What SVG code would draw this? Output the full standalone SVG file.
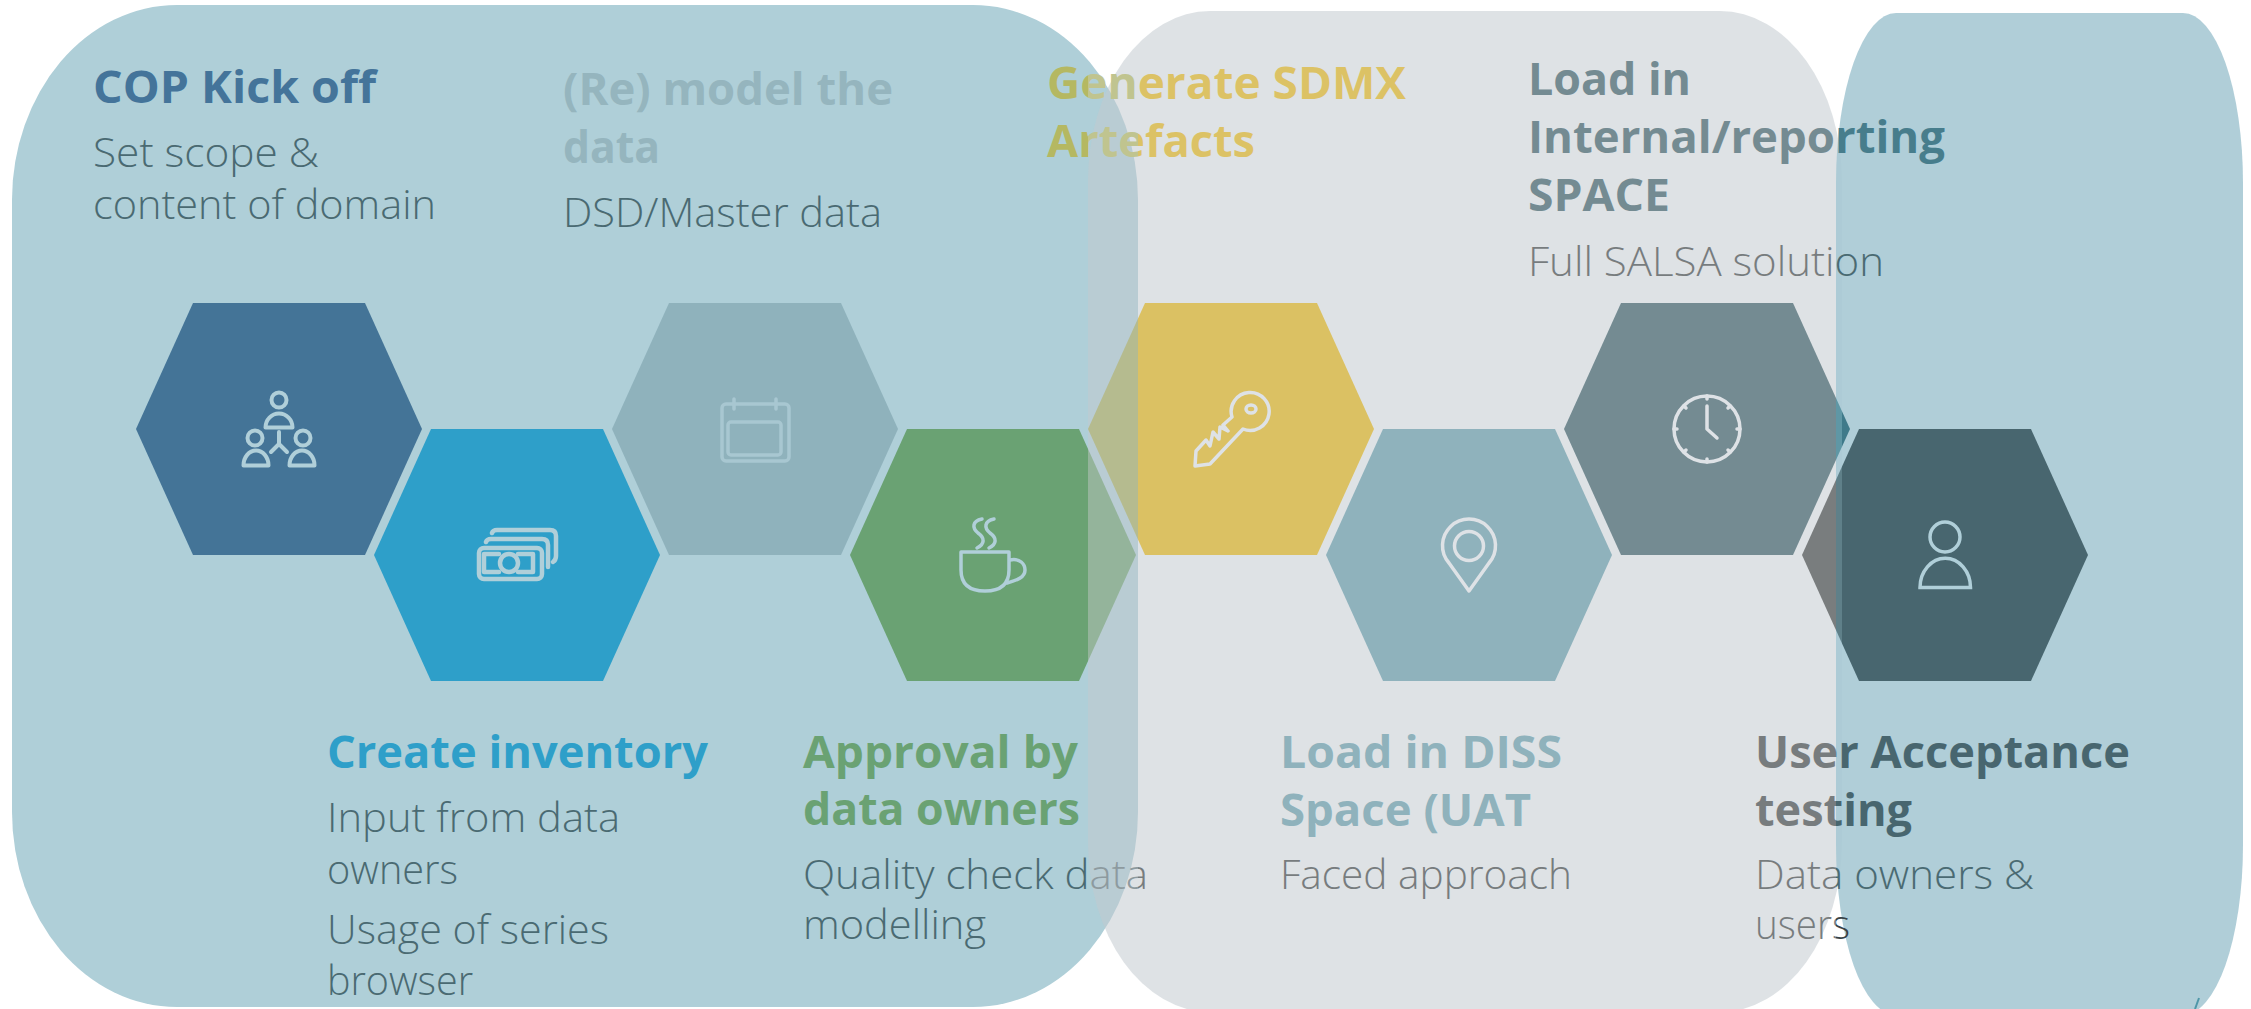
<svg xmlns="http://www.w3.org/2000/svg" width="2251" height="1009" viewBox="0 0 2251 1009">
<style>
text{font-family:"Open Sans","Noto Sans","Liberation Sans",sans-serif}
.t{font-size:45.500px;font-weight:700}
.s{font-size:39.500px;font-weight:300}
.d1{fill:#4a6a72}.d2{fill:#777c7e}
.i{fill:none;stroke-width:3.500;stroke-linecap:round;stroke-linejoin:round}
.ib{stroke:#b0cfd9}.ig{stroke:#dee2e6}
</style>
<defs>
<linearGradient id="gGreen" gradientUnits="userSpaceOnUse" x1="1088" x2="1089" y1="0" y2="0"><stop offset="0" stop-color="#6aa273"/><stop offset="0" stop-color="#94b49b"/></linearGradient>
<linearGradient id="gYellow" gradientUnits="userSpaceOnUse" x1="1138" x2="1139" y1="0" y2="0"><stop offset="0" stop-color="#b5bb8f"/><stop offset="0" stop-color="#dbc163"/></linearGradient>
<linearGradient id="gH7" gradientUnits="userSpaceOnUse" x1="1836" x2="1842" y1="0" y2="0"><stop offset="0" stop-color="#748b92"/><stop offset="0" stop-color="#5f97a5"/><stop offset="1" stop-color="#5f97a5"/><stop offset="1" stop-color="#3f7a8a"/></linearGradient>
<linearGradient id="gH8" gradientUnits="userSpaceOnUse" x1="1836" x2="1842" y1="0" y2="0"><stop offset="0" stop-color="#797d7e"/><stop offset="0" stop-color="#5f8089"/><stop offset="1" stop-color="#5f8089"/><stop offset="1" stop-color="#48666f"/></linearGradient>
<linearGradient id="gTitleY" gradientUnits="userSpaceOnUse" x1="1088" x2="1138" y1="0" y2="0"><stop offset="0" stop-color="#b5b862"/><stop offset="0" stop-color="#c0c48f"/><stop offset="1" stop-color="#c0c48f"/><stop offset="1" stop-color="#dcc265"/></linearGradient>
<linearGradient id="gQual" gradientUnits="userSpaceOnUse" x1="1088" x2="1138" y1="0" y2="0"><stop offset="0" stop-color="#4a6a72"/><stop offset="0" stop-color="#8d9a9f"/><stop offset="1" stop-color="#8d9a9f"/><stop offset="1" stop-color="#777c7e"/></linearGradient>
<linearGradient id="gLoad" gradientUnits="userSpaceOnUse" x1="1836" x2="1837" y1="0" y2="0"><stop offset="0" stop-color="#748b92"/><stop offset="0" stop-color="#477d8c"/></linearGradient>
<linearGradient id="gSub" gradientUnits="userSpaceOnUse" x1="1836" x2="1837" y1="0" y2="0"><stop offset="0" stop-color="#777c7e"/><stop offset="0" stop-color="#4a6a72"/></linearGradient>
<linearGradient id="gUser" gradientUnits="userSpaceOnUse" x1="1836" x2="1837" y1="0" y2="0"><stop offset="0" stop-color="#777c7e"/><stop offset="0" stop-color="#48666f"/></linearGradient>
<linearGradient id="gUsers" gradientUnits="userSpaceOnUse" x1="1836" x2="1837" y1="0" y2="0"><stop offset="0" stop-color="#777c7e"/><stop offset="0" stop-color="#3a4246"/></linearGradient>
</defs>

<g id="panels">
<rect id="panel-blue" x="12" y="5" width="1126" height="1002" rx="165" ry="195" fill="#afcfd8"/>
<rect id="panel-grey" x="1088" y="11" width="754" height="1001" rx="122" ry="170" fill="#c2cacf" fill-opacity="0.54"/>
<rect id="panel-right" x="1836" y="13" width="407" height="1002" rx="60" ry="170" fill="#a7c9d4" fill-opacity="0.9"/>
<path d="M2199 998L2195 1009" stroke="#4f97a8" stroke-width="2" fill="none"/>
</g>

<g id="connectors"></g>

<g id="node-cop">
<polygon points="136,429 193,303 365,303 422,429 365,555 193,555" fill="#447497"/>
<g class="i ib" style="stroke-width:4"><circle cx="279" cy="400" r="7.500"/><path d="M265.500 427.500a13.500 14 0 0 1 27 0z"/><circle cx="255" cy="438" r="7.500"/><path d="M243.500 465.500a12.500 15 0 0 1 25 0z"/><circle cx="303" cy="438" r="7.500"/><path d="M289.500 465.500a12.500 15 0 0 1 25 0z"/><path d="M279 432V444L271 452M279 444L287 452"/></g>
<text class="t" x="93" y="103" textLength="283" lengthAdjust="spacingAndGlyphs" fill="#44749a">COP Kick off</text>
<text class="s d1" x="93" y="167" textLength="226" lengthAdjust="spacingAndGlyphs">Set scope &amp;</text>
<text class="s d1" x="93" y="219" textLength="343" lengthAdjust="spacingAndGlyphs">content of domain</text>
</g>

<g id="node-inventory">
<polygon points="374,555 431,429 603,429 660,555 603,681 431,681" fill="#2e9fc9"/>
<g class="i ib" style="stroke-width:4.500"><rect x="479" y="548" width="63" height="31" rx="5"/><path d="M486 542Q487 539 491 539H542Q548 539 548 545V567"/><path d="M492 533Q493 530 497 530H550Q556 530 556 536V556Q556 560 553 562"/><circle cx="509" cy="563" r="9"/><path d="M499 554H484V572H499M518 554H533V572H518"/></g>
<text class="t" x="327" y="768" textLength="381" lengthAdjust="spacingAndGlyphs" fill="#2e9fc9">Create inventory</text>
<text class="s d1" x="327" y="832" textLength="293" lengthAdjust="spacingAndGlyphs">Input from data</text>
<text class="s d1" x="327" y="884" textLength="131" lengthAdjust="spacingAndGlyphs">owners</text>
<text class="s d1" x="327" y="944" textLength="282" lengthAdjust="spacingAndGlyphs">Usage of series</text>
<text class="s d1" x="327" y="995" textLength="146" lengthAdjust="spacingAndGlyphs">browser</text>
</g>

<g id="node-model">
<polygon points="612,429 669,303 841,303 898,429 841,555 669,555" fill="#8fb2bc"/>
<g class="i" stroke="#a8c7d1"><rect x="722" y="404" width="67" height="57" rx="4"/><rect x="728" y="422" width="53" height="33" rx="3"/><path d="M734 399V409M776 399V409"/></g>
<text class="t" x="563" y="105" textLength="330" lengthAdjust="spacingAndGlyphs" fill="#95b5be">(Re) model the</text>
<text class="t" x="563" y="163" textLength="97" lengthAdjust="spacingAndGlyphs" fill="#95b5be">data</text>
<text class="s d1" x="563" y="227" textLength="319" lengthAdjust="spacingAndGlyphs">DSD/Master data</text>
</g>

<g id="node-approval">
<polygon points="850,555 907,429 1079,429 1136,555 1079,681 907,681" fill="url(#gGreen)"/>
<g class="i ib"><path d="M961 552H1009V570Q1009 591 985 591Q961 591 961 570Z"/><path d="M1010 560C1020 558 1025 564 1025 570C1025 577 1018 580 1007 583"/><path d="M982 519C972 521 972 528 978 533C985 538 985 544 977 548"/><path d="M994 519C984 521 984 528 990 533C997 538 997 544 989 548"/></g>
<text class="t" x="803" y="768" textLength="275" lengthAdjust="spacingAndGlyphs" fill="#6aa273">Approval by</text>
<text class="t" x="803" y="825" textLength="277" lengthAdjust="spacingAndGlyphs" fill="#6aa273">data owners</text>
<text class="s" x="803" y="889" textLength="345" lengthAdjust="spacingAndGlyphs" fill="url(#gQual)">Quality check data</text>
<text class="s d1" x="803" y="939" textLength="183" lengthAdjust="spacingAndGlyphs">modelling</text>
</g>

<g id="node-sdmx">
<polygon points="1088,429 1145,303 1317,303 1374,429 1317,555 1145,555" fill="url(#gYellow)"/>
<g class="i ig"><path d="M1243 429A19 19 0 1 0 1232 417L1223 425L1228 431L1220 427L1219 439L1213 432L1210 446L1206 440L1196 451L1195 466L1210 464Z"/><ellipse cx="1251" cy="409" rx="5" ry="4"/></g>
<text class="t" x="1047" y="99" textLength="359" lengthAdjust="spacingAndGlyphs" fill="url(#gTitleY)">Generate SDMX</text>
<text class="t" x="1047" y="157" textLength="208" lengthAdjust="spacingAndGlyphs" fill="url(#gTitleY)">Artefacts</text>
</g>

<g id="node-diss">
<polygon points="1326,555 1383,429 1555,429 1612,555 1555,681 1383,681" fill="#8fb2bc"/>
<g class="i ig"><path d="M1469 591L1449 563A26.500 26.500 0 1 1 1489 563Z"/><circle cx="1469" cy="546" r="14.500"/></g>
<text class="t" x="1280" y="768" textLength="282" lengthAdjust="spacingAndGlyphs" fill="#8fb2bc">Load in DISS</text>
<text class="t" x="1280" y="826" textLength="251" lengthAdjust="spacingAndGlyphs" fill="#8fb2bc">Space (UAT</text>
<text class="s d2" x="1280" y="889" textLength="292" lengthAdjust="spacingAndGlyphs">Faced approach</text>
</g>

<g id="node-internal">
<polygon points="1564,429 1621,303 1793,303 1850,429 1793,555 1621,555" fill="url(#gH7)"/>
<g class="i ig"><circle cx="1707" cy="429" r="33"/><path d="M1707 406V429L1717 438M1707 396V399M1707 459V462M1674 429H1677M1737 429H1740M1684 406L1686 408M1730 406L1728 408M1684 452L1686 450M1730 452L1728 450"/></g>
<text class="t" x="1528" y="95" textLength="163" lengthAdjust="spacingAndGlyphs" fill="#748b92">Load in</text>
<text class="t" x="1528" y="153" textLength="417" lengthAdjust="spacingAndGlyphs" fill="url(#gLoad)">Internal/reporting</text>
<text class="t" x="1528" y="211" textLength="142" lengthAdjust="spacingAndGlyphs" fill="#748b92">SPACE</text>
<text class="s" x="1528" y="276" textLength="356" lengthAdjust="spacingAndGlyphs" fill="url(#gSub)">Full SALSA solution</text>
</g>

<g id="node-uat">
<polygon points="1802,555 1859,429 2031,429 2088,555 2031,681 1859,681" fill="url(#gH8)"/>
<g class="i ib" style="stroke-linejoin:miter"><circle cx="1945" cy="537" r="15"/><path d="M1920 587.500A25 29 0 0 1 1970.500 587.500Z"/></g>
<text class="t" x="1755" y="768" textLength="375" lengthAdjust="spacingAndGlyphs" fill="url(#gUser)">User Acceptance</text>
<text class="t" x="1755" y="826" textLength="157" lengthAdjust="spacingAndGlyphs" fill="url(#gUser)">testing</text>
<text class="s" x="1755" y="889" textLength="279" lengthAdjust="spacingAndGlyphs" fill="url(#gSub)">Data owners &amp;</text>
<text class="s" x="1755" y="939" textLength="95" lengthAdjust="spacingAndGlyphs" fill="url(#gUsers)">users</text>
</g>
</svg>
